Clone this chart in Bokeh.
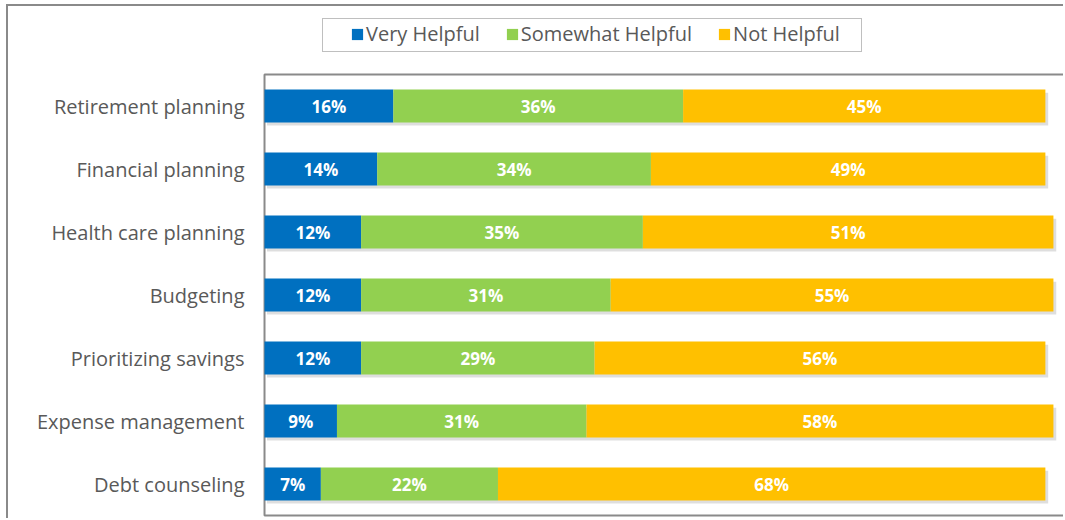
import numpy as np
from bokeh.plotting import figure
from bokeh.models import ColumnDataSource, Range1d, Legend, LegendItem, FixedTicker
from bokeh.core.properties import value
from bokeh.embed import file_html
from bokeh.resources import INLINE

categories = ["Retirement planning", "Financial planning", "Health care planning",
              "Budgeting", "Prioritizing savings", "Expense management", "Debt counseling"]
very_helpful = [16, 14, 12, 12, 12, 9, 7]
somewhat_helpful = [36, 34, 35, 31, 29, 31, 22]
not_helpful = [45, 49, 51, 55, 56, 58, 68]
series_names = ["Very Helpful", "Somewhat Helpful", "Not Helpful"]
colors = ["#0070C0", "#92D050", "#FFC000"]

FONT = "Open Sans"
GREY = "#595959"
LINE = "#8a8a8a"

n = len(categories)
ypos = [n - 1 - i + 0.5 for i in range(n)]  # first category on top

p = figure(width=1057, height=514, output_backend="svg", toolbar_location=None,
           x_range=Range1d(-0.25, 99.5), y_range=Range1d(-3 / 63, n + 68 / 63),
           min_border_left=254, min_border_right=0, min_border_top=0, min_border_bottom=2)
p.styles = {"margin-left": "6px", "margin-top": "4px",
            "border-top": f"2px solid {LINE}", "border-left": f"2px solid {LINE}"}
p.outline_line_color = None
p.xgrid.visible = False
p.ygrid.visible = False
p.xaxis.visible = False
ya = p.yaxis[0]
ya.ticker = FixedTicker(ticks=ypos)
ya.major_label_overrides = {y: c for y, c in zip(ypos, categories)}
ya.axis_line_color = None
ya.major_tick_line_color = None
ya.minor_tick_line_color = None
ya.major_tick_out = 0
ya.major_label_standoff = 18
ya.major_label_text_font = FONT
ya.major_label_text_font_size = "20px"
ya.major_label_text_color = GREY

# plot-area frame
p.quad(left=[0], right=[110], bottom=[0], top=[n], fill_color=None,
       line_color=LINE, line_width=2)

vals = np.array([very_helpful, somewhat_helpful, not_helpful], dtype=float)
rights = np.cumsum(vals, axis=0)
lefts = rights - vals
totals = rights[-1]

H = 0.52
shadow = ColumnDataSource(dict(y=[y - 0.05 for y in ypos], left=[0.3] * n, right=list(totals + 0.35)))
p.hbar(y="y", left="left", right="right", height=H,
       source=shadow, fill_color="#000000", fill_alpha=0.13, line_color=None)

renderers = []
for i, name in enumerate(series_names):
    src = ColumnDataSource(dict(y=ypos, left=list(lefts[i]), right=list(rights[i]),
                                mid=list((lefts[i] + rights[i]) / 2),
                                lab=[f"{int(v)}%" for v in vals[i]]))
    r = p.hbar(y="y", left="left", right="right", height=H, source=src,
               fill_color=colors[i], line_color=None)
    renderers.append(r)
    p.text(x="mid", y="y", text="lab", source=src, text_align="center", text_baseline="middle",
           text_color="white", text_font=value(FONT), text_font_style="bold", text_font_size="17px")

# legend border box
box_r = p.hbar(y=[], left=[], right=[], height=0.5, fill_alpha=0, line_alpha=0)
box = Legend(items=[LegendItem(label=" ", renderers=[box_r])], location=(60, 466),
             orientation="horizontal", padding=0, margin=0, spacing=0,
             glyph_width=538, glyph_height=32, label_standoff=0, label_width=0, label_height=0,
             label_text_font_size="1px", label_text_alpha=0,
             border_line_color="#7f7f7f", border_line_width=1.5, background_fill_color="white")
p.add_layout(box, "center")

leg = Legend(items=[LegendItem(label=nm, renderers=[r]) for nm, r in zip(series_names, renderers)],
             location=(88, 471), orientation="horizontal", padding=0, margin=0, spacing=25,
             glyph_width=14, glyph_height=14, label_standoff=2, label_height=20,
             label_text_font=FONT, label_text_font_size="20px", label_text_color=GREY,
             border_line_color=None, background_fill_alpha=0)
p.add_layout(leg, "center")

open("out.html", "w").write(file_html(p, INLINE))
